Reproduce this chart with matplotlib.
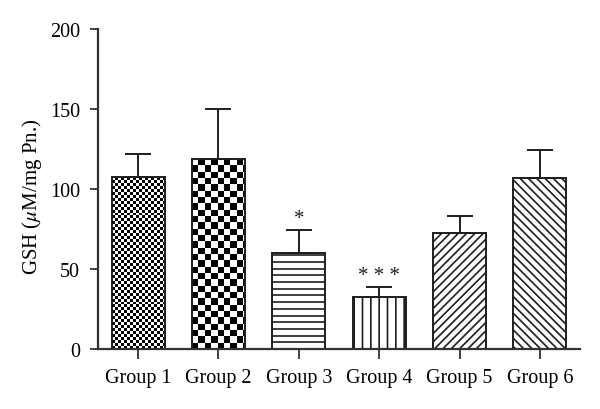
import numpy as np
import matplotlib
matplotlib.use("Agg")
import matplotlib.pyplot as plt

groups = ["Group 1", "Group 2", "Group 3", "Group 4", "Group 5", "Group 6"]
means = [107.5, 118.8, 60.2, 32.2, 72.5, 106.8]
upper = [121.9, 149.9, 74.1, 38.8, 82.9, 124.4]
marks = ["", "", "*", "* * *", "", ""]
yticks = [0, 50, 100, 150, 200]

plt.rcParams['font.family'] = ['Liberation Serif', 'DejaVu Serif']
plt.rcParams['mathtext.fontset'] = 'stix'
plt.rcParams['hatch.linewidth'] = 1.2

fig = plt.figure(figsize=(6.0, 4.1), dpi=100)
ax = fig.add_axes([0.1633, 0.1463, 0.8034, 0.7805])
ax.set_xlim(-0.5, 5.5)
ax.set_ylim(0, 200)

x = np.arange(len(groups))
width = 0.66
ec = '#1e1e1e'
hatches = [None, None, None, '||', '////', '\\\\\\\\']
bars = ax.bar(x, means, width, facecolor='white', edgecolor=ec, linewidth=1.4,
              zorder=2)
for b, h in zip(bars, hatches):
    if h:
        b.set_hatch(h)

fig.canvas.draw()
p0 = ax.transData.transform((0, 0))
p1 = ax.transData.transform((1, 1))
sx, sy = p1[0] - p0[0], p1[1] - p0[1]

# checkerboard fills for first two bars
cell_px = [2.95, 6.3]
for i, cp in enumerate(cell_px):
    b = bars[i]
    cw = cp / sx
    ch = cp / sy
    ncols = int(np.ceil(width / cw))
    nrows = int(np.ceil(means[i] / ch)) + 1
    jj, ii = np.meshgrid(np.arange(ncols), np.arange(nrows))
    board = ((ii + jj) % 2).astype(float)
    x0 = x[i] - width / 2
    im = ax.imshow(board, cmap='gray', vmin=0, vmax=1, interpolation='nearest',
                   extent=(x0, x0 + ncols * cw, 0, nrows * ch), origin='lower',
                   aspect='auto', zorder=1.5)
    im.set_clip_path(b)
    b.set_facecolor('none')

# horizontal stripe fill for group 3
i = 2
step = 6.7 / sy
ys = np.arange(step, means[i], step)
lc = ax.hlines(ys, x[i] - width / 2, x[i] + width / 2, colors=ec, linewidth=1.2,
               zorder=2.5)

ax.set_xlim(-0.5, 5.5)
ax.set_ylim(0, 200)

err_up = np.array(upper) - np.array(means)
ax.errorbar(x, means, yerr=[np.zeros(len(x)), err_up], fmt='none', ecolor=ec,
            elinewidth=1.4, capsize=9.5, capthick=1.4, zorder=3)

for xi, u, m in zip(x, upper, marks):
    if m:
        ax.text(xi, u + 1.5, m, ha='center', va='bottom', fontsize=15, color=ec)

ax.set_xticks(x)
ax.set_xticklabels(groups, fontsize=14.5)
ax.set_yticks(yticks)
ax.set_yticklabels([str(t) for t in yticks], fontsize=14.5)
ax.tick_params(axis='y', length=6, width=1.3, color='#333333', pad=7)
ax.tick_params(axis='x', length=7, width=1.3, color='#333333', pad=7)
for s in ['top', 'right']:
    ax.spines[s].set_visible(False)
for s in ['left', 'bottom']:
    ax.spines[s].set_linewidth(1.6)
    ax.spines[s].set_color('#333333')
ax.set_ylabel(r'GSH ($\mu$M/mg Pn.)', fontsize=15)
ax.yaxis.set_label_coords(-0.112, 0.48)

fig.savefig('out.png', dpi=100)
